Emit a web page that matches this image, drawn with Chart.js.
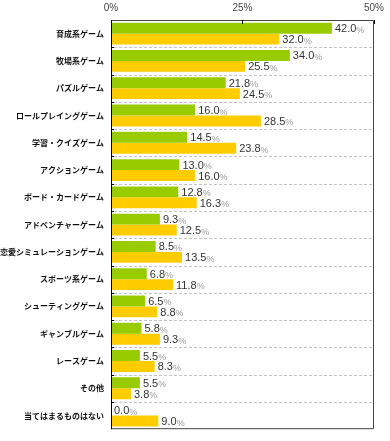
<!DOCTYPE html>
<html>
<head>
<meta charset="utf-8">
<script src="https://cdn.jsdelivr.net/npm/chart.js@4.4.1/dist/chart.umd.min.js"></script>
<style>
  html, body { margin: 0; padding: 0; background: #fff; }
  #wrap { width: 390px; height: 441px; }
</style>
</head>
<body>
<div id="wrap"><canvas id="chart" width="390" height="441"></canvas></div>
<script>
// カテゴリ
var categories = [
  "育成系ゲーム", "牧場系ゲーム", "パズルゲーム", "ロールプレイングゲーム",
  "学習・クイズゲーム", "アクションゲーム", "ボード・カードゲーム",
  "アドベンチャーゲーム", "恋愛シミュレーションゲーム", "スポーツ系ゲーム",
  "シューティングゲーム", "ギャンブルゲーム", "レースゲーム", "その他",
  "当てはまるものはない"
];
// 系列1（緑）
var seriesGreen = [42.0, 34.0, 21.8, 16.0, 14.5, 13.0, 12.8, 9.3, 8.5, 6.8, 6.5, 5.8, 5.5, 5.5, 0.0];
// 系列2（黄）
var seriesYellow = [32.0, 25.5, 24.5, 28.5, 23.8, 16.0, 16.3, 12.5, 13.5, 11.8, 8.8, 9.3, 8.3, 3.8, 9.0];
// 目盛り
var tickValues = [0, 25, 50];

// 棒の右に数値ラベルを描く
var valueLabels = {
  id: "valueLabels",
  afterDatasetsDraw: function(chart) {
    var ctx = chart.ctx;
    ctx.save();
    ctx.textBaseline = "middle";
    chart.data.datasets.forEach(function(ds, i) {
      var meta = chart.getDatasetMeta(i);
      meta.data.forEach(function(bar, j) {
        var num = ds.data[j].toFixed(1);
        var x = bar.x + 3;
        var y = bar.y + 1;
        ctx.font = "11px Arial, 'Liberation Sans', sans-serif";
        ctx.fillStyle = "#333";
        ctx.textAlign = "left";
        ctx.fillText(num, x, y);
        var w = ctx.measureText(num).width;
        ctx.font = "9px Arial, 'Liberation Sans', sans-serif";
        ctx.fillStyle = "#999";
        ctx.fillText("%", x + w, y + 1);
      });
    });
    ctx.restore();
  }
};

// 区切りの点線、枠線、25%の目盛り
var frame = {
  id: "frame",
  beforeDatasetsDraw: function(chart) {
    var a = chart.chartArea;
    var ctx = chart.ctx;
    var ys = chart.scales.y;
    ctx.save();
    ctx.lineWidth = 1;
    for (var i = 0; i < categories.length - 1; i++) {
      var py = Math.round((ys.getPixelForValue(i) + ys.getPixelForValue(i + 1)) / 2) + 0.5;
      ctx.strokeStyle = "#c4c4c4";
      ctx.setLineDash([3, 2]);
      ctx.beginPath();
      ctx.moveTo(a.left + 3, py);
      ctx.lineTo(a.right, py);
      ctx.stroke();
      ctx.setLineDash([]);
      ctx.strokeStyle = "#000";
      ctx.beginPath();
      ctx.moveTo(a.left, py);
      ctx.lineTo(a.left + 3, py);
      ctx.stroke();
    }
    ctx.restore();
  },
  afterDraw: function(chart) {
    var a = chart.chartArea;
    var ctx = chart.ctx;
    var xs = chart.scales.x;
    ctx.save();
    ctx.lineWidth = 1;
    ctx.strokeStyle = "#444";
    ctx.beginPath();
    ctx.moveTo(a.left, a.top + 0.5);
    ctx.lineTo(a.right - 0.5, a.top + 0.5);
    ctx.lineTo(a.right - 0.5, a.bottom - 0.5);
    ctx.lineTo(a.left, a.bottom - 0.5);
    ctx.stroke();
    ctx.strokeStyle = "#000";
    ctx.beginPath();
    ctx.moveTo(a.left + 0.5, a.top);
    ctx.lineTo(a.left + 0.5, a.bottom);
    ctx.stroke();
    tickValues.forEach(function(v) {
      var px = Math.round(xs.getPixelForValue(v)) + 0.5;
      ctx.beginPath();
      ctx.moveTo(px, a.top);
      ctx.lineTo(px, a.top + 4);
      ctx.stroke();
    });
    ctx.restore();
  }
};

new Chart(document.getElementById("chart"), {
  type: "bar",
  data: {
    labels: categories,
    datasets: [{
      data: seriesGreen,
      backgroundColor: "#99cc00",
      categoryPercentage: 0.8,
      barPercentage: 1.0
    }, {
      data: seriesYellow,
      backgroundColor: "#ffcc00",
      categoryPercentage: 0.8,
      barPercentage: 1.0
    }]
  },
  options: {
    indexAxis: "y",
    responsive: false,
    animation: false,
    layout: { padding: { top: 0, right: 13, bottom: 4, left: 0 } },
    plugins: {
      legend: { display: false },
      tooltip: { enabled: false }
    },
    scales: {
      x: {
        position: "top",
        min: 0,
        max: 50,
        afterBuildTicks: function(scale) {
          scale.ticks = tickValues.map(function(v) { return { value: v }; });
        },
        afterFit: function(scale) { scale.height = 20; },
        grid: { display: false, drawTicks: false },
        border: { display: false },
        ticks: {
          padding: 6,
          maxRotation: 0,
          color: "#444",
          font: { size: 10, family: "Arial, 'Liberation Sans', sans-serif" },
          callback: function(v) { return v + "%"; }
        }
      },
      y: {
        afterFit: function(scale) { scale.width = 111; },
        grid: { display: false, drawTicks: false },
        border: { display: false },
        ticks: {
          padding: 7,
          color: "#111",
          font: { size: 8, weight: "bold", family: "'Noto Sans CJK JP', sans-serif" }
        }
      }
    }
  },
  plugins: [valueLabels, frame]
});
</script>
</body>
</html>
